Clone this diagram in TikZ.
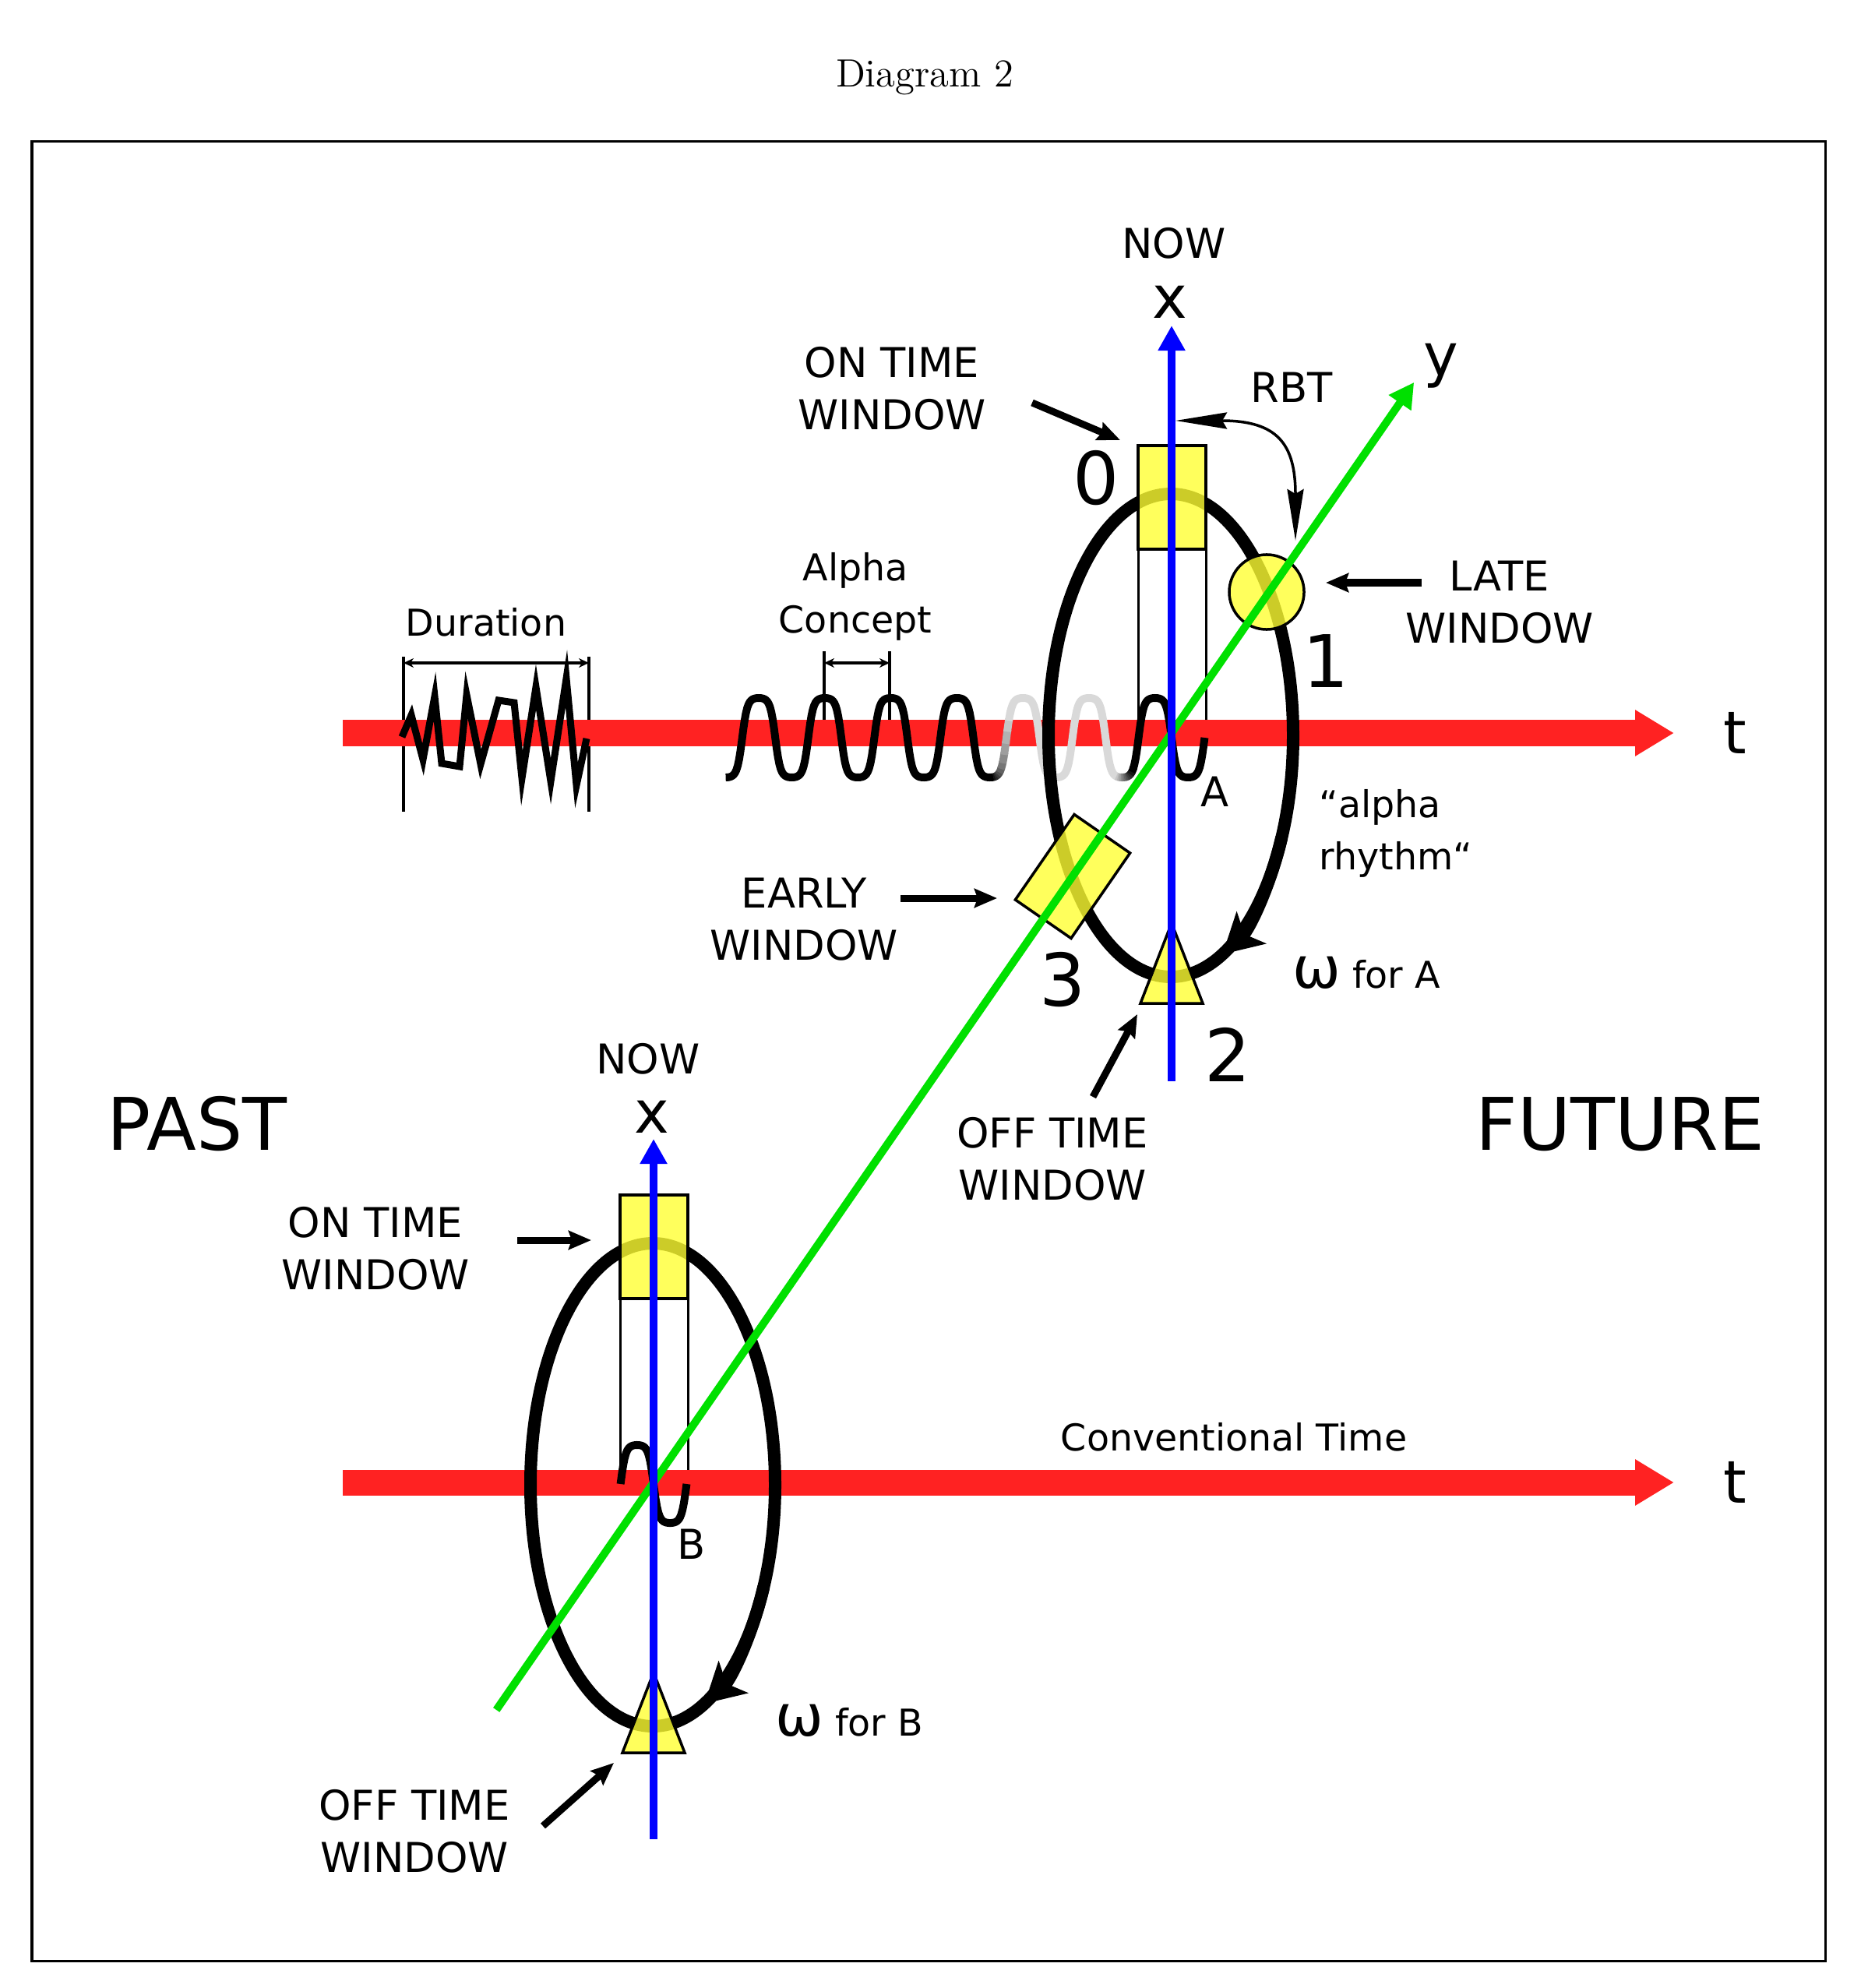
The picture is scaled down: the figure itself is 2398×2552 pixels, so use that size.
\documentclass[tikz,border=0pt]{standalone}
\usepackage{fontspec}
\newfontfamily\dejavu{DejaVu Sans}
\usetikzlibrary{arrows.meta, calc}

\definecolor{axisred}{RGB}{255,34,34}
\definecolor{axisgreen}{RGB}{0,224,0}
\definecolor{winyellow}{RGB}{255,255,51}
\definecolor{fadegray}{RGB}{217,217,217}

\tikzset{
  lbl/.style={font=\dejavu\fontsize{15}{19}\selectfont, align=center, inner sep=0pt},
  smalllbl/.style={font=\dejavu\fontsize{13.5}{19}\selectfont, align=center, inner sep=0pt},
  bignum/.style={font=\dejavu\fontsize{26.5}{30}\selectfont, inner sep=0pt},
  axlbl/.style={font=\dejavu\fontsize{21.5}{24}\selectfont, inner sep=0pt},
  taxis/.style={draw=axisred, line width=0.33cm, -{Triangle[length=0.5cm, width=0.56cm]}},
  xaxis/.style={draw=blue, line width=0.1cm, -{Triangle[length=0.32cm, width=0.33cm]}},
  yaxis/.style={draw=axisgreen, line width=0.1cm, -{Triangle[length=0.32cm, width=0.33cm]}},
  orbit/.style={line width=0.16cm},
  window/.style={draw=black, line width=0.035cm, fill=winyellow, fill opacity=0.8},
  slot/.style={draw=black, line width=0.03cm},
  wave/.style={line width=0.1cm},
  dimline/.style={line width=0.035cm},
  dimarrow/.style={line width=0.035cm, {Stealth[length=0.13cm, width=0.12cm]}-{Stealth[length=0.13cm, width=0.12cm]}},
  pointer/.style={line width=0.09cm, -{Stealth[length=0.29cm, width=0.24cm, inset=0.04cm]}},
  rbtarrow/.style={line width=0.035cm, {Stealth[length=0.66cm, width=0.21cm, inset=0.06cm]}-{Stealth[length=0.66cm, width=0.21cm, inset=0.06cm]}},
}

% one piece of the alpha wave on the upper time axis (period 84.8, steep flanks)
\newcommand{\alphawave}[4]{%
  \draw[wave, #3] plot[domain=#1:#2, samples=#4] (\x, {947+52.9*tanh(2*cos((\x-931.6)*4.24528))});}

\begin{document}
\begin{tikzpicture}[x=0.01cm, y=-0.01cm]
\useasboundingbox (0,0) rectangle (2398,2552);

% frame and title
\draw[line width=0.03cm] (41,182) rectangle (2343,2517);
\node[font=\fontsize{14.4}{17}\selectfont] (title) at (1187,99) {Diagram 2};

% origins of the two rhythms
\coordinate (A) at (1504,941);
\coordinate (B) at (839,1903);

% open slots below the on time windows
\foreach \o in {A,B}{
  \begin{scope}[shift={(\o)}]
    \draw[slot] (-43,-236) rectangle (44,0);
  \end{scope}
}

% duration and alpha concept markers
\coordinate (durL) at (518,851);
\coordinate (durR) at (756,851);
\draw[dimline] ($(durL)+(0,-8)$) -- ($(durL)+(0,191)$);
\draw[dimline] ($(durR)+(0,-8)$) -- ($(durR)+(0,191)$);
\draw[dimarrow] (durL) -- (durR);
\coordinate (alpL) at (1058,851);
\coordinate (alpR) at (1142,851);
\draw[dimline] ($(alpL)+(0,-15)$) -- ($(alpL)+(0,90)$);
\draw[dimline] ($(alpR)+(0,-15)$) -- ($(alpR)+(0,90)$);
\draw[dimarrow] (alpL) -- (alpR);

% conventional time axes
\coordinate (tA0) at (440,941);
\coordinate (tA1) at (2149,941);
\coordinate (tB0) at (440,1903);
\coordinate (tB1) at (2149,1903);
\draw[taxis] (tA0) -- (tA1);
\draw[taxis] (tB0) -- (tB1);

% alpha wave, fading out inside the orbit
\alphawave{931.6}{1274}{black}{200}
\foreach \k in {0,...,11}{
  \pgfmathsetmacro{\xa}{1273+2*\k}
  \pgfmathsetmacro{\xb}{\xa+2.4}
  \pgfmathsetmacro{\pc}{100-85*\k/11}
  \alphawave{\xa}{\xb}{black!\pc!white}{4}
}
\alphawave{1296.5}{1431.5}{fadegray}{80}
\foreach \k in {0,...,11}{
  \pgfmathsetmacro{\xa}{1431+2*\k}
  \pgfmathsetmacro{\xb}{\xa+2.4}
  \pgfmathsetmacro{\pc}{15+85*\k/11}
  \alphawave{\xa}{\xb}{black!\pc!white}{4}
}
\alphawave{1454.5}{1546.4}{black}{60}
\draw[wave] plot[domain=796.6:881.4, samples=50] (\x, {1905-51.9*tanh(2*sin((\x-796.6)*4.24528))});

% irregular signal
\draw[line width=0.09cm] (516,946) -- (528,918) -- (543,975) -- (558,894) -- (567,980)
  -- (590,984) -- (599,892) -- (617,981) -- (640,899) -- (660,902) -- (670,999)
  -- (688,882) -- (707,1003) -- (727,871) -- (740,1008) -- (753,948);

% orbits with on time and off time windows
\foreach \o in {A,B}{
  \begin{scope}[shift={(\o)}]
    \draw[orbit] (-1,3) ellipse[x radius=157, y radius=310];
    \draw[orbit, -{Stealth[length=0.5cm, width=0.55cm, inset=0.12cm]}] (-1,3) ++(25:157 and 310)
      arc[start angle=25, end angle=65, x radius=157, y radius=310];
    \draw[window] (-43,-369) rectangle (44,-236);
    \draw[window] (0,244) -- (40,347) -- (-40,347) -- cycle;
  \end{scope}
}

% late and early windows
\node[window, circle, minimum size=0.96cm, inner sep=0pt] (late) at (1626,760) {};
\node[window, rectangle, rotate=-34.65, minimum width=0.87cm, minimum height=1.33cm, inner sep=0pt] (early) at (1377,1125) {};

% y axis through both origins
\coordinate (y0) at ($(B)!-0.3035!(A)$);
\coordinate (y1) at ($(B)!1.468!(A)$);
\draw[yaxis] (y0) -- (y1);

% x axes
\coordinate (xA0) at (1504,1388);
\coordinate (xA1) at (1504,418);
\coordinate (xB0) at (839,2361);
\coordinate (xB1) at (839,1462);
\draw[xaxis] (xA0) -- (xA1);
\draw[xaxis] (xB0) -- (xB1);

% axis labels
\node[lbl] (nowA) at (1507,312) {NOW};
\node[axlbl] (xlabA) at (1502,388) {x};
\node[lbl] (nowB) at (832,1359) {NOW};
\node[axlbl] (xlabB) at (837,1434) {x};
\node[axlbl] (ylab) at (1850,470) {y};
\node[axlbl] (tlabA) at (2227,941) {t};
\node[axlbl] (tlabB) at (2227,1903) {t};
\node[lbl] (labA) at (1560,1016) {A};
\node[lbl] (labB) at (888,1982) {B};

% window numbers
\node[bignum] (n0) at (1407,614) {0};
\node[bignum] (n1) at (1702,849) {1};
\node[bignum] (n2) at (1576,1354) {2};
\node[bignum] (n3) at (1364,1258) {3};

% text labels
\node[smalllbl] (duration) at (624,799) {Duration};
\node[smalllbl] (concept) at (1098,766) {Alpha\\Concept};
\node[smalllbl] (conv) at (1584,1845) {Conventional Time};
\node[smalllbl, anchor=west, align=left] (rhythm) at (1693,1070) {“alpha\\rhythm“};
\node[smalllbl, anchor=base] (omegaA) at (1754,1268) {{\fontsize{21}{21}\selectfont ω}\ for A};
\node[smalllbl, anchor=base] (omegaB) at (1090,2228) {{\fontsize{21}{21}\selectfont ω}\ for B};
\node[lbl] (rbt) at (1658,497) {RBT};
\node[lbl] (onA) at (1145,499) {ON TIME\\WINDOW};
\node[lbl] (lateA) at (1925,773) {LATE\\WINDOW};
\node[lbl] (earlyA) at (1032,1180) {EARLY\\WINDOW};
\node[lbl] (offA) at (1351,1488) {OFF TIME\\WINDOW};
\node[lbl] (onB) at (482,1603) {ON TIME\\WINDOW};
\node[lbl] (offB) at (532,2351) {OFF TIME\\WINDOW};
\node[bignum] (past) at (253,1443) {PAST};
\node[bignum] (future) at (2080,1443) {FUTURE};

% pointers to the windows
\coordinate (onA tail) at (1325,517);
\coordinate (onA tip) at (1438,565);
\coordinate (late tail) at (1825,748);
\coordinate (late tip) at (1702,748);
\coordinate (early tail) at (1156,1153);
\coordinate (early tip) at (1280,1153);
\coordinate (offA tail) at (1403,1408);
\coordinate (offA tip) at (1460,1302);
\coordinate (onB tail) at (664,1592);
\coordinate (onB tip) at (759,1592);
\coordinate (offB tail) at (697,2344);
\coordinate (offB tip) at (788,2263);
\draw[pointer] (onA tail) -- (onA tip);
\draw[pointer] (late tail) -- (late tip);
\draw[pointer] (early tail) -- (early tip);
\draw[pointer] (offA tail) -- (offA tip);
\draw[pointer] (onB tail) -- (onB tip);
\draw[pointer] (offB tail) -- (offB tip);

% RBT between now and the late window
\coordinate (rbt0) at (1509,540);
\coordinate (rbt1) at (1663,694);
\draw[rbtarrow] (rbt0) .. controls (1640,540) and (1663,570) .. (rbt1);
\end{tikzpicture}
\end{document}
